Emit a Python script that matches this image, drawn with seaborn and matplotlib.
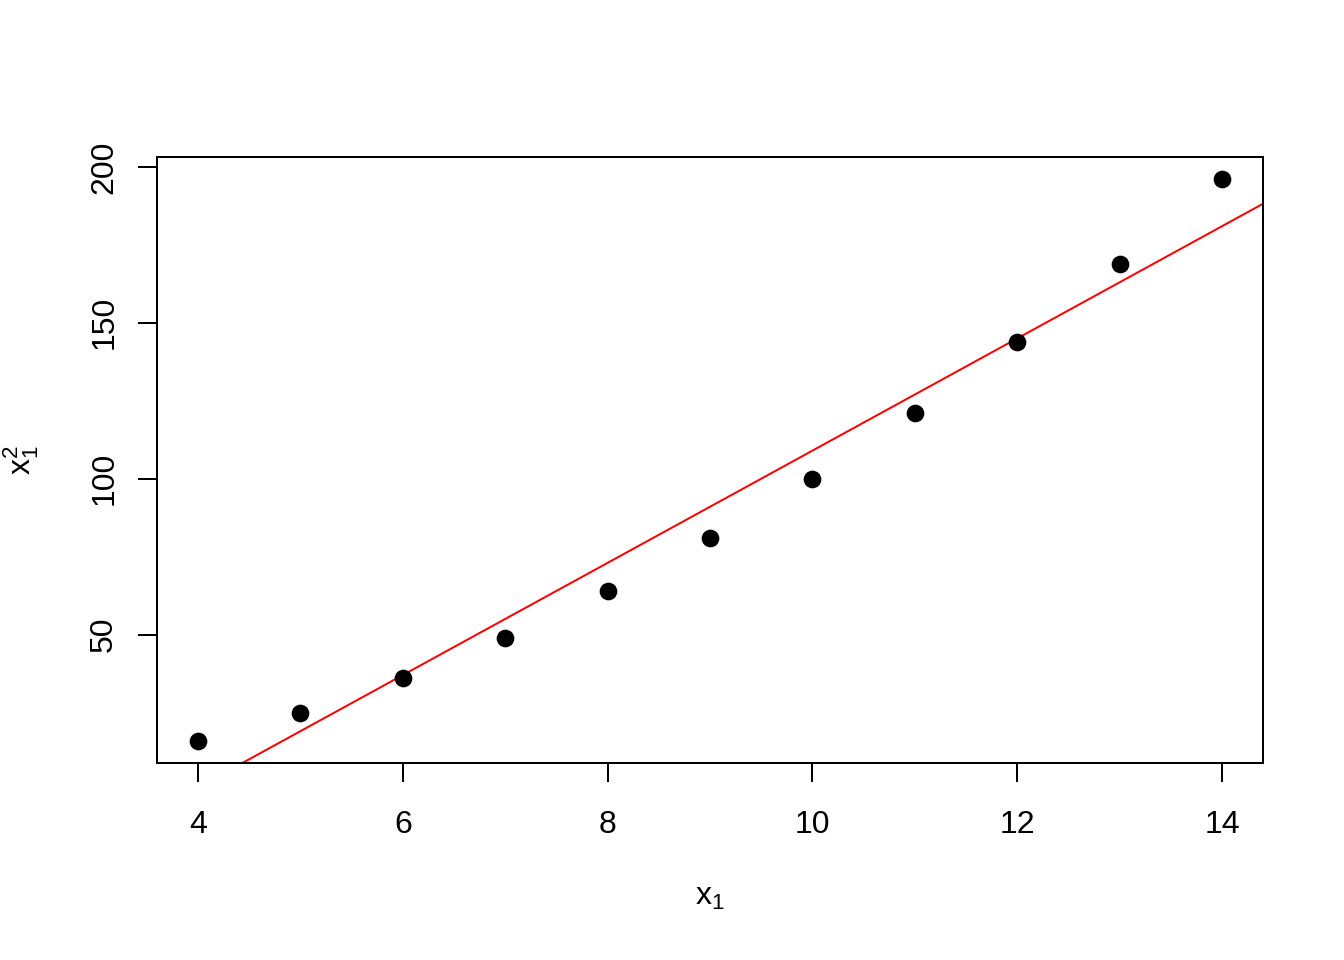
import numpy as np
import pandas as pd
import matplotlib
matplotlib.use("Agg")
import matplotlib.pyplot as plt
import seaborn as sns

x1 = [4, 5, 6, 7, 8, 9, 10, 11, 12, 13, 14]
x1_sq = [16, 25, 36, 49, 64, 81, 100, 121, 144, 169, 196]
x_ticks = [4, 6, 8, 10, 12, 14]
y_ticks = [50, 100, 150, 200]

df = pd.DataFrame({"x1": x1, "x1sq": x1_sq})

sns.set_style("white")
plt.rcParams["font.family"] = ["Liberation Sans", "DejaVu Sans"]
plt.rcParams["mathtext.fontset"] = "custom"
plt.rcParams["mathtext.rm"] = "Liberation Sans"
plt.rcParams["mathtext.it"] = "Liberation Sans"
plt.rcParams["text.color"] = "black"
plt.rcParams["axes.labelcolor"] = "black"
plt.rcParams["xtick.color"] = "black"
plt.rcParams["ytick.color"] = "black"

fig = plt.figure(figsize=(7, 5), dpi=192)
ax = fig.add_axes([157/1344, 1-763/960, (1263-157)/1344, (763-157)/960])

sns.scatterplot(data=df, x="x1", y="x1sq", ax=ax, color="black", s=44,
                linewidth=0, marker="o", zorder=3)

slope, intercept = np.polyfit(df["x1"], df["x1sq"], 1)
ax.axline((0, intercept), slope=slope, color="red", lw=0.75, zorder=2)

ax.set_xlim(3.6, 14.4)
ax.set_ylim(8.8, 203.2)
ax.set_xticks(x_ticks)
ax.set_yticks(y_ticks)
ax.tick_params(axis="both", direction="out", length=7.2, width=0.75,
               labelsize=12, colors="black", bottom=True, left=True)
ax.tick_params(axis="x", pad=10.5)
ax.tick_params(axis="y", pad=7)
for lab in ax.get_yticklabels():
    lab.set_rotation(90)
    lab.set_va("center")
for sp in ax.spines.values():
    sp.set_visible(True)
    sp.set_color("black")
    sp.set_linewidth(0.75)

ax.set_xlabel(r"$\mathrm{x}_1$", fontsize=12, labelpad=15.5, color="black")
ax.set_ylabel(r"$\mathrm{x}_1^2$", fontsize=12, labelpad=18, color="black")

fig.savefig("out.png", dpi=192, facecolor="white")
